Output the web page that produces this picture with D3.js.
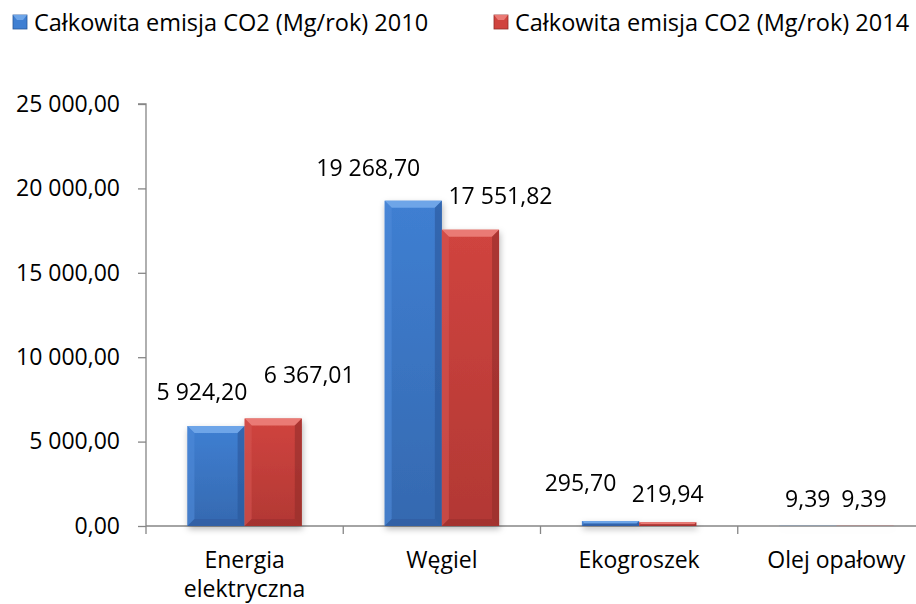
<!DOCTYPE html>
<html>
<head>
<meta charset="utf-8">
<script src="https://cdn.jsdelivr.net/npm/d3@7"></script>
<style>
  body { margin: 0; background: #fff; }
  svg { display: block; font-family: "Open Sans", sans-serif; }
  .axis path, .axis line { stroke: #868686; stroke-width: 1.3; }
</style>
</head>
<body>
<div id="main"></div>
<script>
var width = 916,
    height = 604;

// data
var categories = ["Energia elektryczna", "Węgiel", "Ekogroszek", "Olej opałowy"];
var seriesNames = ["Całkowita emisja CO2 (Mg/rok) 2010", "Całkowita emisja CO2 (Mg/rok) 2014"];
var values2010 = [5924.20, 19268.70, 295.70, 9.39];
var values2014 = [6367.01, 17551.82, 219.94, 9.39];
var yTicks = [0, 5000, 10000, 15000, 20000, 25000];

// label nudges (dx from bar centre, dy from bar top), hand-placed like in the original
var labelNudge2010 = [[-14, -26], [-45, -25], [-30, -30], [0, -19]];
var labelNudge2014 = [[36, -36], [30, -26], [0, -20], [-1, -19]];

var colors = [
  { main: "#3f7fd2", dark: "#3569b0", top: "#6ea5e8", side: "#4f8bd9", edge: "#2a579a" },
  { main: "#d0443f", dark: "#b23834", top: "#ea7a75", side: "#d45550", edge: "#922d2a" }
];

var pl = d3.formatLocale({ decimal: ",", thousands: "\u00a0", grouping: [3], currency: ["", ""] });
var fmt = pl.format(",.2f");

var svg = d3.select("#main").append("svg")
    .attr("width", width)
    .attr("height", height);

var defs = svg.append("defs");
var shadow = defs.append("filter").attr("id", "shadow")
    .attr("x", "-20%").attr("y", "-20%").attr("width", "140%").attr("height", "140%");
shadow.append("feDropShadow")
    .attr("dx", 1).attr("dy", 3).attr("stdDeviation", 3)
    .attr("flood-color", "#000").attr("flood-opacity", 0.28);

colors.forEach(function(c, i) {
  var g = defs.append("linearGradient").attr("id", "face" + i)
      .attr("x1", 0).attr("y1", 0).attr("x2", 0).attr("y2", 1);
  g.append("stop").attr("offset", "0%").attr("stop-color", c.main);
  g.append("stop").attr("offset", "100%").attr("stop-color", c.dark);
});

var x0 = d3.scaleBand()
    .domain(categories)
    .range([146, 935])
    .paddingInner(0.42)
    .paddingOuter(0.21);

var x1 = d3.scaleBand()
    .domain([0, 1])
    .range([0, x0.bandwidth()]);

var y = d3.scaleLinear()
    .domain([0, 25000])
    .range([526, 104]);

// y axis
var yAxis = svg.append("g")
    .attr("class", "axis")
    .attr("transform", "translate(146,0)")
    .call(d3.axisLeft(y).tickValues(yTicks).tickSize(8).tickPadding(18).tickFormat(fmt));
yAxis.attr("font-family", null).attr("font-size", null);
yAxis.selectAll("text")
    .attr("fill", "#000")
    .style("font-size", "23px");
yAxis.select(".domain").attr("d", "M0," + y(0) + "V" + y(25000) + "H-8");

// x axis line with category separators
var step = x0.step();
var xAxis = svg.append("g").attr("class", "axis");
xAxis.append("line")
    .attr("x1", 146).attr("x2", width)
    .attr("y1", y(0)).attr("y2", y(0));
xAxis.selectAll("line.sep")
    .data(d3.range(categories.length))
    .enter().append("line")
    .attr("class", "sep")
    .attr("x1", function(i) { return 146 + i * step; })
    .attr("x2", function(i) { return 146 + i * step; })
    .attr("y1", y(0)).attr("y2", y(0) + 8);

// category labels
svg.append("g").selectAll("text")
    .data(categories)
    .enter().append("text")
    .attr("x", function(d) { return x0(d) + x0.bandwidth() / 2; })
    .attr("y", 568)
    .attr("text-anchor", "middle")
    .style("font-size", "23px")
    .each(function(d) {
      var t = d3.select(this);
      var parts = d === "Energia elektryczna" ? ["Energia", "elektryczna"] : [d];
      parts.forEach(function(p, i) {
        t.append("tspan")
          .attr("x", x0(d) + x0.bandwidth() / 2)
          .attr("dy", i === 0 ? 0 : 29)
          .text(p);
      });
    });

// bars with bevel
function bevelBar(sel, c, grad) {
  sel.each(function(d) {
    var g = d3.select(this);
    var bx = d.x, by = y(d.v), bw = d.w, bh = y(0) - y(d.v);
    var b = Math.min(7, bh / 2);
    g.append("rect")
      .attr("x", bx).attr("y", by).attr("width", bw).attr("height", bh)
      .attr("fill", "url(#" + grad + ")");
    if (bh < 1) return;
    // top facet
    g.append("path")
      .attr("d", "M" + bx + "," + by + "H" + (bx + bw) + "L" + (bx + bw - b) + "," + (by + b) +
           "H" + (bx + b) + "Z")
      .attr("fill", c.top);
    // left facet
    g.append("path")
      .attr("d", "M" + bx + "," + by + "L" + (bx + b) + "," + (by + b) + "V" + (by + bh - b) +
           "L" + bx + "," + (by + bh) + "Z")
      .attr("fill", c.side).attr("opacity", 0.6);
    // right facet
    g.append("path")
      .attr("d", "M" + (bx + bw) + "," + by + "L" + (bx + bw - b) + "," + (by + b) + "V" + (by + bh - b) +
           "L" + (bx + bw) + "," + (by + bh) + "Z")
      .attr("fill", c.edge).attr("opacity", 0.6);
    // bottom facet
    g.append("path")
      .attr("d", "M" + bx + "," + (by + bh) + "L" + (bx + b) + "," + (by + bh - b) + "H" + (bx + bw - b) +
           "L" + (bx + bw) + "," + (by + bh) + "Z")
      .attr("fill", c.edge).attr("opacity", 0.45);
  });
}

var series = [values2010, values2014];
var nudges = [labelNudge2010, labelNudge2014];

var barLayer = svg.append("g").attr("filter", "url(#shadow)");
series.forEach(function(vals, si) {
  var data = vals.map(function(v, i) {
    return { v: v, x: x0(categories[i]) + x1(si), w: x1.bandwidth() };
  });
  barLayer.append("g").selectAll("g")
    .data(data)
    .enter().append("g")
    .call(bevelBar, colors[si], "face" + si);
});

// value labels
series.forEach(function(vals, si) {
  svg.append("g").selectAll("text")
    .data(vals)
    .enter().append("text")
    .attr("x", function(d, i) { return x0(categories[i]) + x1(si) + x1.bandwidth() / 2 + nudges[si][i][0]; })
    .attr("y", function(d, i) { return y(d) + nudges[si][i][1]; })
    .attr("text-anchor", "middle")
    .style("font-size", "23px")
    .text(function(d) { return fmt(d); });
});

// legend
var legendX = [13, 494];
var legend = svg.append("g");
seriesNames.forEach(function(name, i) {
  var c = colors[i];
  var lg = legend.append("g").attr("transform", "translate(" + legendX[i] + ",15)");
  lg.append("rect").attr("width", 14).attr("height", 14).attr("fill", c.main).attr("stroke", c.edge).attr("stroke-width", 0.8);
  lg.append("path").attr("d", "M0,0H14L10,5H4Z").attr("fill", c.top);
  lg.append("text")
    .attr("x", 21).attr("y", 15.5)
    .style("font-size", "23.5px")
    .text(name);
});
</script>
</body>
</html>
